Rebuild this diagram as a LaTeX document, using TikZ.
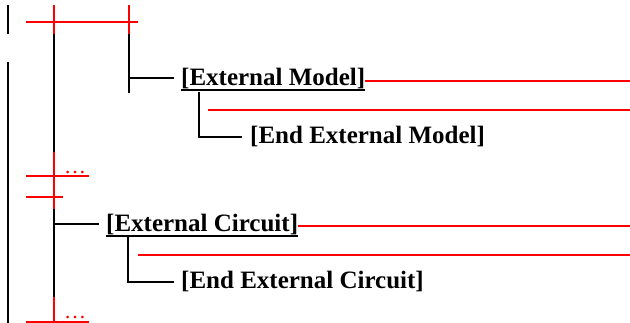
\documentclass[tikz,border=0pt]{standalone}
\usepackage{fontspec}
\setmainfont{Liberation Serif}
\begin{document}
\begin{tikzpicture}[x=1pt,y=-1pt,
  blk/.style={line width=1.7pt,black},
  bar/.style={line width=2pt,black},
  rd/.style={line width=1.6pt,red},
  lbl/.style={font=\fontsize{25}{30}\selectfont\bfseries,inner sep=0pt,anchor=base west},
  ul/.style={line width=2.7pt,black},
  dotsty/.style={font=\fontsize{22}{24}\selectfont,text=red,inner sep=0pt,text depth=0pt,anchor=base west}]
\useasboundingbox (0,0) rectangle (630,323);
% left bars
\coordinate (b1t) at (8,5); \coordinate (b1b) at (8,34);
\coordinate (b2t) at (8,62); \coordinate (b2b) at (8,323);
\draw[bar] (b1t) -- (b1b);
\draw[bar] (b2t) -- (b2b);
% main vertical
\coordinate (v1top) at (54,5); \coordinate (v1a) at (54,34);
\coordinate (v1b) at (54,152); \coordinate (v1c) at (54,209);
\coordinate (v1d) at (54,297); \coordinate (v1e) at (54,323);
\draw[rd] (v1top) -- (v1a);
\draw[blk] (v1a) -- (v1b);
\draw[rd] (v1b) -- (v1c);
\draw[blk] (v1c) -- (v1d);
\draw[rd] (v1d) -- (v1e);
% second vertical
\coordinate (v2top) at (129,5); \coordinate (v2a) at (129,34);
\coordinate (v2b) at (129,93);
\draw[rd] (v2top) -- (v2a);
\draw[blk] (v2a) -- (v2b);
% top bus
\coordinate (bus1l) at (26,22); \coordinate (bus1r) at (138,22);
\draw[rd] (bus1l) -- (bus1r);
% External Model
\node[lbl] (em) at (181,86) {[External Model]};
\coordinate (br1a) at (129,78); \coordinate (br1b) at (174,78);
\draw[blk] (br1a) -- (br1b);
\draw[ul] ([yshift=-4pt]em.base west) -- ([yshift=-4pt]em.base east);
\coordinate (emr) at (630,81);
\draw[rd] ([yshift=5pt]em.base east) -- (emr);
\coordinate (emv) at (199,92); \coordinate (emh) at (242,137);
\draw[blk] (emv) |- (emh);
\coordinate (r2l) at (208,110); \coordinate (r2r) at (630,110);
\draw[rd] (r2l) -- (r2r);
\node[lbl] (eem) at (250,144) {[End External Model]};
% dots 1
\coordinate (d1l) at (26,176); \coordinate (d1r) at (89,176);
\draw[rd] (d1l) -- (d1r);
\node[dotsty] (dots1) at (64,174) {…};
\coordinate (d2l) at (26,197); \coordinate (d2r) at (63,197);
\draw[rd] (d2l) -- (d2r);
% External Circuit
\coordinate (br2a) at (54,224); \coordinate (br2b) at (99,224);
\draw[blk] (br2a) -- (br2b);
\node[lbl] (ec) at (106,232) {[External Circuit]};
\draw[ul] ([yshift=-4pt]ec.base west) -- ([yshift=-4pt]ec.base east);
\coordinate (ecr) at (630,226);
\draw[rd] ([yshift=6pt]ec.base east) -- (ecr);
\coordinate (ecv) at (128,236); \coordinate (ech) at (174,282);
\draw[blk] (ecv) |- (ech);
\coordinate (r4l) at (138,255); \coordinate (r4r) at (630,255);
\draw[rd] (r4l) -- (r4r);
\node[lbl] (eec) at (181,289) {[End External Circuit]};
% dots 2
\coordinate (d3l) at (26,322); \coordinate (d3r) at (89,322);
\draw[rd] (d3l) -- (d3r);
\node[dotsty] (dots2) at (64,319) {…};
\end{tikzpicture}
\end{document}
